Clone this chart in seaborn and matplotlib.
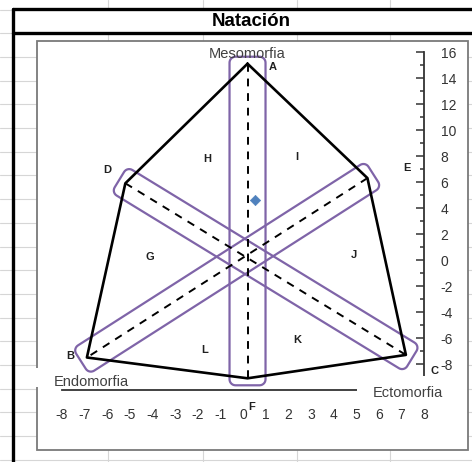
import numpy as np
import pandas as pd
import seaborn as sns
import matplotlib.pyplot as plt
from matplotlib.patches import Polygon, Rectangle
from matplotlib.lines import Line2D

# somatocarta corners (x, y) in chart units, order of the outline
point_names = ['A', 'E', 'C', 'F', 'B', 'D']
point_x = [0.2, 5.5, 7.2, 0.2, -6.9, -5.2]
point_y = [15.1, 6.3, -7.3, -9.1, -7.5, 5.9]

# axes through the centre (dashed)
axis_pairs = [('A', 'F'), ('D', 'C'), ('E', 'B')]

# mean somatotype of the group
somato_x = [0.53]
somato_y = [4.6]

# zone letters
zone_names = ['A', 'D', 'H', 'I', 'E', 'G', 'J', 'B', 'L', 'K', 'C', 'F']
zone_x = [1.3, -6.0, -1.6, 2.4, 7.25, -4.1, 4.9, -7.65, -1.7, 2.4, 8.45, 0.4]
zone_y = [14.85, 6.9, 7.8, 7.9, 7.1, 0.2, 0.4, -7.4, -6.9, -6.15, -8.5, -11.3]

x_ticks = list(range(-8, 9))
y_ticks = list(range(-8, 17, 2))
y_minor = list(range(-9, 16, 2))

W, H = 472, 462

sns.set_style('white')
plt.rcParams['font.family'] = ['Liberation Sans', 'DejaVu Sans']
plt.rcParams['axes.unicode_minus'] = False

fig = plt.figure(figsize=(W / 100, H / 100), dpi=100)
fig.patch.set_facecolor('white')

# spreadsheet grid behind the chart
for gx in [108, 203, 297, 390]:
    fig.add_artist(Line2D([gx / W, gx / W], [0, 1], color='#d6d6d6', lw=0.8, zorder=-3))
for gy in np.arange(9.5, H, 23.7):
    fig.add_artist(Line2D([0, 1], [1 - gy / H, 1 - gy / H], color='#d6d6d6', lw=0.8, zorder=-3))

# title band and chart box
fig.add_artist(Rectangle((13 / W, 1 - 33 / H), 1, 24 / H, transform=fig.transFigure,
                         fc='white', ec='none', zorder=-2))
fig.add_artist(Rectangle((37 / W, 1 - 450 / H), 431 / W, 409 / H, transform=fig.transFigure,
                         fc='white', ec='#7a7a7a', lw=1.3, zorder=-1))
fig.add_artist(Line2D([13 / W, 13 / W], [0, 1 - 9 / H], color='black', lw=2.4, zorder=1))
fig.add_artist(Line2D([13 / W, 1], [1 - 9 / H, 1 - 9 / H], color='black', lw=2.4, zorder=1))
fig.add_artist(Line2D([13 / W, 1], [1 - 33 / H, 1 - 33 / H], color='black', lw=2.4, zorder=1))
fig.text(251 / W, 1 - 21 / H, 'Natación', ha='center', va='center',
         fontsize=13.5, fontweight='bold', color='black')

# plot area: x -8..8 at px 62..424, y -10..16 at px 390..52
ax = fig.add_axes([62 / W, (H - 390) / H, 362 / W, 338 / H])
ax.set_facecolor('none')
ax.set_xlim(-8, 8)
ax.set_ylim(-10, 16)

pts = {n: (x, y) for n, x, y in zip(point_names, point_x, point_y)}

# outline
outline = pd.DataFrame({'x': point_x + [point_x[0]], 'y': point_y + [point_y[0]]})
sns.lineplot(data=outline, x='x', y='y', sort=False, estimator=None,
             color='black', lw=1.9, ax=ax, zorder=5)

# dashed axes
for a, b in axis_pairs:
    seg = pd.DataFrame({'x': [pts[a][0], pts[b][0]], 'y': [pts[a][1], pts[b][1]]})
    sns.lineplot(data=seg, x='x', y='y', sort=False, estimator=None,
                 color='black', lw=1.4, ax=ax, zorder=4)
    ax.lines[-1].set_linestyle((0, (4, 3.5)))


# rounded bands around each axis, built in pixel space
def band(p0, p1, hw, ext, r):
    d0 = ax.transData.transform(p0)
    d1 = ax.transData.transform(p1)
    v = d1 - d0
    L = np.hypot(*v)
    u = v / L
    n = np.array([-u[1], u[0]])
    s0, s1 = -ext, L + ext
    t0, t1 = -hw, hw
    outline_pts = []
    corners = [(s1 - r, t1 - r, 0), (s0 + r, t1 - r, 90), (s0 + r, t0 + r, 180), (s1 - r, t0 + r, 270)]
    for cs, ct, start in corners:
        for ang in np.radians(np.linspace(start, start + 90, 8)):
            outline_pts.append((cs + r * np.cos(ang), ct + r * np.sin(ang)))
    disp = np.array([d0 + s * u + t * n for s, t in outline_pts])
    return ax.transData.inverted().transform(disp)


band_width = {('A', 'F'): 18, ('D', 'C'): 15, ('E', 'B'): 15}
for a, b in axis_pairs:
    poly = band(pts[a], pts[b], band_width[(a, b)], 7, 6)
    ax.add_patch(Polygon(poly, closed=True, fill=False, ec='#7f64a8', lw=1.6,
                         zorder=3, clip_on=False))

# mean point
sns.scatterplot(x=somato_x, y=somato_y, marker='D', s=28, color='#4f81bd',
                edgecolor='#4f81bd', ax=ax, zorder=6)

for name, zx, zy in zip(zone_names, zone_x, zone_y):
    ax.text(zx, zy, name, ha='center', va='center', fontsize=8, fontweight='bold',
            color='#202020', zorder=7, clip_on=False)

ax.text(0.2, 15.85, 'Mesomorfia', ha='center', va='center', fontsize=10.5,
        color='#404040', zorder=7, clip_on=False)
ax.add_patch(Rectangle((-9.5, -9.8), 4.4, 1.5, fc='white', ec='none', zorder=2.6, clip_on=False))
ax.text(-6.7, -9.4, 'Endomorfia', ha='center', va='center', fontsize=10.5,
        color='#404040', zorder=7, clip_on=False)
ax.add_patch(Rectangle((5.05, -10.9), 4.4, 2.0, fc='white', ec='none', zorder=2.6, clip_on=False))
ax.text(7.3, -10.25, 'Ectomorfia', ha='center', va='center', fontsize=10.5,
        color='#404040', zorder=7, clip_on=False)

# axes styling
ax.set_xlabel('')
ax.set_ylabel('')
ax.spines['top'].set_visible(False)
ax.spines['left'].set_visible(False)
for s in ['bottom', 'right']:
    ax.spines[s].set_visible(True)
    ax.spines[s].set_color('#333333')
    ax.spines[s].set_linewidth(1.3)
ax.yaxis.tick_right()
ax.set_xticks(x_ticks)
ax.set_yticks(y_ticks)
ax.set_yticks(y_minor, minor=True)
ax.tick_params(axis='x', direction='in', length=5, width=1.1, pad=13,
               labelsize=10, color='#333333', labelcolor='#333333')
ax.tick_params(axis='y', which='major', direction='in', length=6, width=1.1, pad=12,
               labelsize=10, color='#333333', labelcolor='#333333')
ax.tick_params(axis='y', which='minor', direction='in', length=3, width=1.1, color='#333333')

fig.savefig('out.png', dpi=100)
